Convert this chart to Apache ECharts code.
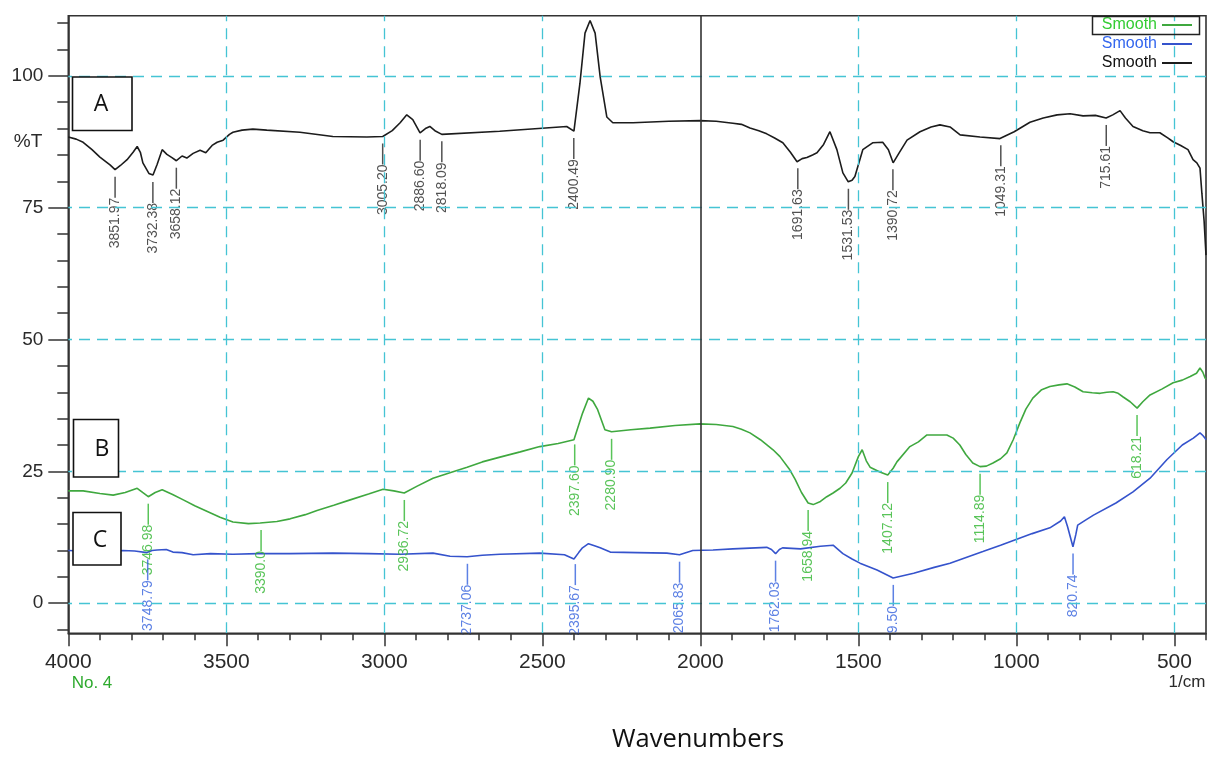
<!DOCTYPE html>
<html>
<head>
<meta charset="utf-8">
<script src="https://cdn.jsdelivr.net/npm/echarts@6/dist/echarts.min.js"></script>
<style>
html,body{margin:0;padding:0;background:#fff;}
#chart{width:1210px;height:762px;}
</style>
</head>
<body>
<div id="chart"></div>
<script>
// ---------------- DATA ----------------
// Curve A (black)
const wnA = [4000,3975,3953,3925,3900,3868,3852,3835,3814,3795,3782,3772,3764,3745,3732,3719,3703,3688,3672,3658,3640,3625,3605,3583,3565,3545,3529,3510,3490,3479,3450,3416,3372,3267,3163,3055,3005,2975,2950,2929,2910,2887,2870,2856,2840,2818,2635,2423,2400,2381,2365,2349,2333,2317,2296,2277,2213,2100,2001,1950,1897,1870,1843,1815,1790,1765,1739,1715,1694,1678,1663,1645,1631,1610,1590,1568,1549,1532,1520,1511,1486,1455,1423,1405,1390,1370,1346,1305,1270,1242,1210,1178,1115,1052,1007,957,915,871,830,789,750,716,695,672,655,631,600,577,546,520,504,480,457,441,429,419,413,406,400];
const tA  = [88.4,88.0,87.4,86.0,84.6,83.1,82.2,83.0,84.1,85.5,86.6,85.5,83.5,81.5,81.2,83.2,86.0,85.1,84.5,83.9,84.8,84.4,85.3,85.9,85.4,86.8,87.4,87.8,88.9,89.3,89.7,89.9,89.7,89.3,88.5,88.4,88.5,89.6,91.1,92.6,91.7,89.2,90.0,90.4,89.6,88.9,89.5,90.4,89.5,98.6,108.1,110.5,108.1,99.8,92.2,91.1,91.1,91.4,91.5,91.4,91.0,90.8,90.1,89.6,89.0,88.2,87.3,85.5,83.7,84.3,84.5,85.0,85.4,87.0,89.4,86.0,81.6,79.9,80.2,80.9,86.0,87.3,87.4,86.0,83.5,85.5,87.8,89.4,90.3,90.7,90.3,88.8,88.4,88.1,89.4,91.2,92.0,92.6,92.8,92.4,92.5,92.0,92.6,93.4,92.0,90.4,89.6,89.2,89.2,88.2,87.5,86.8,86.0,84.1,83.5,82.5,77.7,72.5,66.0];

// Curve B (green)
const wnB = [4000,3953,3900,3858,3820,3782,3765,3747,3725,3703,3670,3636,3600,3560,3520,3479,3430,3393,3340,3298,3250,3213,3160,3108,3050,3004,2970,2937,2896,2846,2790,2738,2690,2634,2570,2508,2450,2400,2373,2354,2340,2325,2302,2281,2220,2159,2080,2001,1950,1897,1870,1843,1810,1770,1748,1717,1700,1680,1659,1643,1620,1600,1580,1558,1540,1520,1500,1488,1475,1463,1432,1407,1390,1378,1337,1310,1283,1250,1220,1200,1179,1160,1138,1115,1095,1074,1050,1030,1010,989,970,948,920,894,865,840,815,789,760,735,714,694,678,662,640,618,600,577,540,504,475,450,430,419,410,403,400];
const tB  = [21.3,21.3,20.8,20.5,21.0,21.8,21.0,20.2,21.0,21.5,20.6,19.6,18.5,17.4,16.3,15.4,15.1,15.2,15.5,16.0,16.8,17.6,18.6,19.6,20.7,21.6,21.3,20.9,22.2,23.7,24.8,25.8,26.8,27.7,28.7,29.7,30.3,31.0,36.0,38.9,38.3,36.7,32.9,32.5,32.9,33.2,33.7,34.0,33.9,33.5,33.0,32.3,31.0,29.1,27.8,25.3,23.5,21.0,19.0,18.7,19.3,20.2,20.9,21.8,22.8,24.7,27.8,29.1,27.0,25.8,24.9,24.3,25.6,26.8,29.7,30.6,31.9,31.9,31.9,31.3,30.0,28.2,26.6,25.9,26.0,26.6,27.4,28.5,31.0,34.2,36.8,38.9,40.5,41.1,41.4,41.6,41.0,40.1,39.9,39.8,40.0,40.1,39.8,39.1,38.2,37.0,38.2,39.5,40.6,41.8,42.3,43.0,43.6,44.6,43.8,42.7,42.5];

// Curve C (blue)
const wnC = [4000,3960,3900,3860,3827,3790,3751,3735,3719,3690,3669,3640,3605,3550,3479,3400,3300,3163,3050,2950,2846,2792,2738,2690,2634,2508,2430,2400,2385,2373,2354,2335,2317,2285,2200,2106,2066,2024,1960,1897,1790,1775,1762,1750,1740,1683,1620,1580,1549,1520,1495,1441,1390,1325,1260,1210,1106,1050,1001,950,894,860,848,838,821,812,806,780,756,685,631,577,524,475,440,419,410,403,400];
const tC  = [10.0,9.9,10.1,9.8,10.0,9.9,9.6,10.0,10.1,10.2,9.7,9.6,9.2,9.4,9.3,9.4,9.4,9.5,9.4,9.3,9.5,8.9,8.8,9.1,9.3,9.5,9.2,8.4,9.6,10.5,11.3,10.9,10.5,9.7,9.6,9.5,9.2,10.0,10.1,10.3,10.6,10.2,9.4,10.2,10.5,10.3,10.8,11.0,9.4,8.4,7.6,6.3,4.8,5.7,6.8,7.6,9.8,11.0,12.1,13.2,14.3,15.6,16.4,14.5,10.7,13.0,14.8,15.8,16.7,19.0,21.1,23.7,27.2,30.0,31.3,32.3,31.8,31.3,31.0];

// Peak picks (wavenumber) and their printed labels
const peaksA  = [3851.97,3732.38,3658.12,3005.20,2886.60,2818.09,2400.49,1691.63,1531.53,1390.72,1049.31,715.61];
const labelsA = ['3851.97','3732.38','3658.12','3005.20','2886.60','2818.09','2400.49','1691.63','1531.53','1390.72','1049.31','715.61'];
const peaksB  = [3746.98,3390.0,2936.72,2397.60,2280.90,1658.94,1407.12,1114.89,618.21];
const labelsB = ['3746.98','3390.0','2936.72','2397.60','2280.90','1658.94','1407.12','1114.89','618.21'];
const peaksC  = [3748.79,2737.06,2395.67,2065.83,1762.03,1389.50,820.74];
const labelsC = ['3748.79','2737.06','2395.67','2065.83','1762.03','1389.50','820.74'];

// Axis ticks / labels
const xMajor = [4000,3500,3000,2500,2000,1500,1000,500];
const xMinor = [400,500,600,700,800,900,1000,1100,1200,1300,1400,1500,1600,1700,1800,1900,2000,2100,2200,2300,2400,2500,2600,2700,2800,2900,3000,3100,3200,3300,3400,3500,3600,3700,3800,3900,4000];
const yMajor = [0,25,50,75,100];
const yMinor = [-5,0,5,10,15,20,25,30,35,40,45,50,55,60,65,70,75,80,85,90,95,100,105,110];
const xGrid  = [3500,3000,2500,1500,1000,500];
const xSolid = [2000];
const yGrid  = [0,25,50,75,100];

// ---------------- STYLE ----------------
const FONT = '"Liberation Sans", Arial, sans-serif';
const colA = '#1c1c1c', colB = '#3fa83f', colC = '#3553cc';
const labColA = '#262626', labColB = '#2fb52f', labColC = '#3562dd';
const gridCyan = '#45c4d4';

function zip(ws, vs){ return ws.map((w,i)=>[w, vs[i]]); }
function interp(ws, vs, w){
  for (let i=0;i<ws.length-1;i++){
    if (ws[i] >= w && w >= ws[i+1]){
      const f = (ws[i]-w)/(ws[i]-ws[i+1] || 1);
      return vs[i] + f*(vs[i+1]-vs[i]);
    }
  }
  return vs[vs.length-1];
}
function peakSeries(name, ws, vs, peaks, labels, color){
  return {
    name: name, type: 'scatter', xAxisIndex: 0, yAxisIndex: 0,
    symbol: 'circle', symbolSize: 1, itemStyle: {color: 'rgba(0,0,0,0)'}, silent: true, z: 4,
    emphasis: {disabled: true},
    data: peaks.map((p,i)=>({name: labels[i], value: [p, interp(ws, vs, p)]})),
    label: {
      show: true, position: 'inside', rotate: 90, align: 'right', verticalAlign: 'middle',
      formatter: p => '{t|' + p.name + '}{l| }{g| }',
      rich: {
        t: {fontSize: 14, fontFamily: FONT, color: color, verticalAlign: 'middle'},
        l: {width: 21, height: 1.5, backgroundColor: color, verticalAlign: 'middle', fontSize: 6},
        g: {width: 7, fontSize: 6, verticalAlign: 'middle'}
      }
    },
    labelLayout: {hideOverlap: false}
  };
}

const chart = echarts.init(document.getElementById('chart'), null, {renderer: 'canvas'});

const gridLines = [];
xGrid.forEach(v => gridLines.push({xAxis: v}));
yGrid.forEach(v => gridLines.push({yAxis: v}));
xSolid.forEach(v => gridLines.push({xAxis: v, lineStyle: {type: 'solid', color: '#333', width: 1.6}}));

const fmt = v => String(v);

const option = {
  backgroundColor: '#fff',
  animation: false,
  grid: {left: 68.3, right: 4, top: 15.7, bottom: 128.7, show: true, borderColor: '#333', borderWidth: 1.6, backgroundColor: 'transparent', outerBoundsMode: 'none'},
  legend: {
    orient: 'vertical', right: 13, top: 12, align: 'right', selectedMode: false,
    icon: 'rect', itemWidth: 30, itemHeight: 2, itemGap: 3,
    textStyle: {fontSize: 16, fontFamily: FONT},
    formatter: () => 'Smooth',
    data: [
      {name: 'Smooth B', textStyle: {color: '#33cc33'}},
      {name: 'Smooth C', textStyle: {color: '#3366ee'}},
      {name: 'Smooth A', textStyle: {color: '#111'}}
    ]
  },
  xAxis: [
    {
      type: 'value', min: 400, max: 4000, inverse: true, position: 'bottom', z: 20,
      axisLine: {show: true, onZero: false, lineStyle: {color: '#333', width: 1.6}},
      axisTick: {show: true, customValues: xMajor, length: 13, inside: false, lineStyle: {color: '#333', width: 1.5}},
      axisLabel: {show: true, customValues: xMajor, formatter: fmt, margin: 18, fontSize: 21, fontFamily: FONT, color: '#2a2a2a'},
      splitLine: {show: false}
    },
    {
      type: 'value', min: 400, max: 4000, inverse: true, position: 'bottom', z: 20,
      axisLine: {show: false, onZero: false},
      axisTick: {show: true, customValues: xMinor, length: 7, lineStyle: {color: '#333', width: 1.5}},
      axisLabel: {show: false},
      splitLine: {show: false}
    }
  ],
  yAxis: [
    {
      type: 'value', min: -5.7, max: 111.4, position: 'left',
      axisLine: {show: true, onZero: false, lineStyle: {color: '#333', width: 1.6}},
      axisTick: {show: true, customValues: yMajor, length: 20, lineStyle: {color: '#333', width: 1.5}},
      axisLabel: {show: true, customValues: yMajor, formatter: fmt, margin: 25, fontSize: 19, fontFamily: FONT, color: '#2a2a2a'},
      splitLine: {show: false}
    },
    {
      type: 'value', min: -5.7, max: 111.4, position: 'left',
      axisLine: {show: false, onZero: false},
      axisTick: {show: true, customValues: yMinor, length: 11, lineStyle: {color: '#333', width: 1.5}},
      axisLabel: {show: false},
      splitLine: {show: false}
    }
  ],
  series: [
    {
      name: 'gridlines', type: 'line', data: [], z: 1, silent: true,
      markLine: {
        silent: true, symbol: ['none','none'], animation: false,
        label: {show: false},
        lineStyle: {type: [11, 7], color: gridCyan, width: 1.3},
        emphasis: {disabled: true},
        data: gridLines
      }
    },
    {name: 'Smooth B', type: 'line', data: zip(wnB, tB), showSymbol: false, symbol: 'none', z: 3,
     lineStyle: {color: colB, width: 1.6}, itemStyle: {color: colB}},
    {name: 'Smooth C', type: 'line', data: zip(wnC, tC), showSymbol: false, symbol: 'none', z: 3,
     lineStyle: {color: colC, width: 1.6}, itemStyle: {color: colC}},
    {name: 'Smooth A', type: 'line', data: zip(wnA, tA), showSymbol: false, symbol: 'none', z: 3,
     lineStyle: {color: colA, width: 1.6}, itemStyle: {color: colA}},
    peakSeries('pkA', wnA, tA, peaksA, labelsA, labColA),
    peakSeries('pkB', wnB, tB, peaksB, labelsB, labColB),
    peakSeries('pkC', wnC, tC, peaksC, labelsC, labColC)
  ],
  graphic: [
    {type: 'group', z: 10, children: [
      {type: 'rect', z: 10, shape: {x: 72.5, y: 77, width: 59.5, height: 53.5}, style: {fill: '#fff', stroke: '#111', lineWidth: 1.6}},
      {type: 'text', z: 11, style: {x: 101, y: 104, text: 'A', font: '23px "Open Sans", sans-serif', fill: '#111', textAlign: 'center', textVerticalAlign: 'middle'}},
      {type: 'rect', z: 10, shape: {x: 73.5, y: 419.5, width: 45, height: 57.5}, style: {fill: '#fff', stroke: '#111', lineWidth: 1.6}},
      {type: 'text', z: 11, style: {x: 102, y: 449, text: 'B', font: '23px "Open Sans", sans-serif', fill: '#111', textAlign: 'center', textVerticalAlign: 'middle'}},
      {type: 'rect', z: 10, shape: {x: 73, y: 512.5, width: 48, height: 52.5}, style: {fill: '#fff', stroke: '#111', lineWidth: 1.6}},
      {type: 'text', z: 11, style: {x: 100, y: 540, text: 'C', font: '23px "Open Sans", sans-serif', fill: '#111', textAlign: 'center', textVerticalAlign: 'middle'}}
    ]},
    {type: 'rect', z: 10, shape: {x: 885, y: 634.6, width: 18, height: 30}, style: {fill: '#fff'}},
    {type: 'rect', z: 10, shape: {x: 1092.5, y: 16.5, width: 107, height: 18}, style: {fill: 'none', stroke: '#222', lineWidth: 1.5}},
    {type: 'text', z: 10, style: {x: 28, y: 142, text: '%T', font: '19px ' + FONT, fill: '#2a2a2a', textAlign: 'center', textVerticalAlign: 'middle'}},
    {type: 'text', z: 10, style: {x: 92, y: 683, text: 'No. 4', font: '17px ' + FONT, fill: '#2eaa2e', textAlign: 'center', textVerticalAlign: 'middle'}},
    {type: 'text', z: 10, style: {x: 1187, y: 682, text: '1/cm', font: '17px ' + FONT, fill: '#2a2a2a', textAlign: 'center', textVerticalAlign: 'middle'}},
    {type: 'text', z: 10, style: {x: 698, y: 740, text: 'Wavenumbers', font: '25.5px "Open Sans", sans-serif', fill: '#111', textAlign: 'center', textVerticalAlign: 'middle'}}
  ]
};
chart.setOption(option);
</script>
</body>
</html>
